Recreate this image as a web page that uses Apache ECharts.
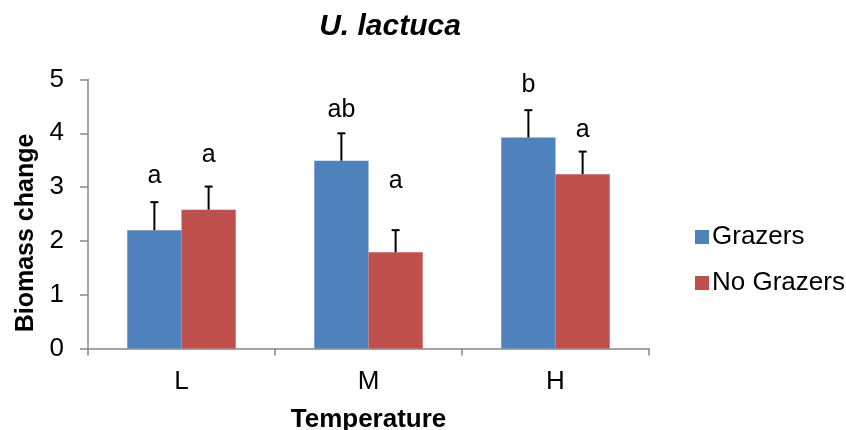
<!DOCTYPE html>
<html>
<head>
<meta charset="utf-8">
<script src="https://cdn.jsdelivr.net/npm/echarts@6/dist/echarts.min.js"></script>
<style>
html,body{margin:0;padding:0;background:#fff;}
#c{width:846px;height:430px;}
</style>
</head>
<body>
<div id="c"></div>
<script>
var categories = ['L', 'M', 'H'];
var seriesNames = ['Grazers', 'No Grazers'];
var grazers = [2.20, 3.49, 3.92];
var noGrazers = [2.58, 1.79, 3.24];
var errGrazers = [0.52, 0.51, 0.51];
var errNoGrazers = [0.43, 0.41, 0.42];
var lettersGrazers = ['a', 'ab', 'b'];
var lettersNoGrazers = ['a', 'a', 'a'];
var letterYGrazers = [3.21, 4.43, 4.90];
var letterYNoGrazers = [3.59, 3.11, 4.06];
var yTicks = [0, 1, 2, 3, 4, 5];

var FONT = '"Liberation Sans", Arial, sans-serif';
var colors = ['#4F81BD', '#C0504D'];
var GAP = 0.42;

function offsetFor(side, api) {
  var band = api.size([1, 0])[0];
  var bw = band * (1 - GAP) / 2;
  return side * bw / 2;
}

function errSeries(vals, errs, side) {
  return {
    type: 'custom',
    silent: true,
    z: 5,
    data: vals.map(function (v, i) { return [i, v, errs[i]]; }),
    renderItem: function (params, api) {
      var i = api.value(0), v = api.value(1), e = api.value(2);
      var off = offsetFor(side, api);
      var p0 = api.coord([i, v]);
      var p1 = api.coord([i, v + e]);
      var x = p0[0] + off;
      var cap = 4;
      var st = { stroke: '#000', lineWidth: 2 };
      return {
        type: 'group',
        children: [
          { type: 'line', shape: { x1: x, y1: p0[1], x2: x, y2: p1[1] }, style: st },
          { type: 'line', shape: { x1: x - cap, y1: p1[1], x2: x + cap, y2: p1[1] }, style: st }
        ]
      };
    }
  };
}

function letterSeries(ys, letters, side) {
  return {
    type: 'custom',
    silent: true,
    z: 6,
    data: ys.map(function (y, i) { return [i, y]; }),
    renderItem: function (params, api) {
      var i = api.value(0), y = api.value(1);
      var off = offsetFor(side, api);
      var p = api.coord([i, y]);
      return {
        type: 'text',
        style: {
          x: p[0] + off, y: p[1],
          text: letters[params.dataIndex],
          font: '25px ' + FONT,
          fill: '#000',
          align: 'center',
          verticalAlign: 'middle'
        }
      };
    }
  };
}

var chart = echarts.init(document.getElementById('c'), null, { renderer: 'canvas' });
chart.setOption({
  animation: false,
  backgroundColor: '#fff',
  title: {
    text: 'U. lactuca',
    left: 385, textAlign: 'center',
    top: 7,
    textStyle: { fontFamily: FONT, fontSize: 30, fontWeight: 'bold', fontStyle: 'italic', color: '#000' }
  },
  legend: {
    orient: 'vertical',
    left: 690, top: 219,
    itemWidth: 14, itemHeight: 14,
    itemGap: 20,
    icon: 'rect',
    data: seriesNames,
    textStyle: { fontFamily: FONT, fontSize: 26, color: '#000', padding: [0, 0, 0, -2] }
  },
  grid: { left: 88, right: 197, top: 79.5, bottom: 81.5, containLabel: false, outerBoundsMode: 'none' },
  xAxis: {
    type: 'category',
    data: categories,
    name: 'Temperature',
    nameLocation: 'middle',
    nameGap: 58,
    nameTextStyle: { fontFamily: FONT, fontSize: 26, fontWeight: 'bold', color: '#000' },
    axisLine: { lineStyle: { color: '#868686', width: 1.5 } },
    axisTick: { show: true, length: 7, alignWithLabel: false, lineStyle: { color: '#868686', width: 1.5 } },
    axisLabel: { fontFamily: FONT, fontSize: 26, color: '#000', margin: 20 },
    splitLine: { show: false }
  },
  yAxis: {
    type: 'value',
    min: yTicks[0], max: yTicks[yTicks.length - 1], interval: 1,
    name: 'Biomass change',
    nameLocation: 'middle',
    nameGap: 48,
    nameRotate: 90,
    nameTextStyle: { fontFamily: FONT, fontSize: 25, fontWeight: 'bold', color: '#000', padding: [0, 38, 0, 0] },
    axisLine: { show: true, lineStyle: { color: '#868686', width: 1.5 } },
    axisTick: { show: true, length: 8, lineStyle: { color: '#868686', width: 1.5 } },
    axisLabel: { fontFamily: FONT, fontSize: 26, color: '#000', margin: 24 },
    splitLine: { show: false }
  },
  series: [
    {
      name: seriesNames[0], type: 'bar', data: grazers,
      barGap: '0%', barCategoryGap: (GAP * 100) + '%',
      itemStyle: { color: colors[0] }
    },
    {
      name: seriesNames[1], type: 'bar', data: noGrazers,
      barGap: '0%', barCategoryGap: (GAP * 100) + '%',
      itemStyle: { color: colors[1] }
    },
    errSeries(grazers, errGrazers, -1),
    errSeries(noGrazers, errNoGrazers, 1),
    letterSeries(letterYGrazers, lettersGrazers, -1),
    letterSeries(letterYNoGrazers, lettersNoGrazers, 1)
  ]
});
</script>
</body>
</html>
